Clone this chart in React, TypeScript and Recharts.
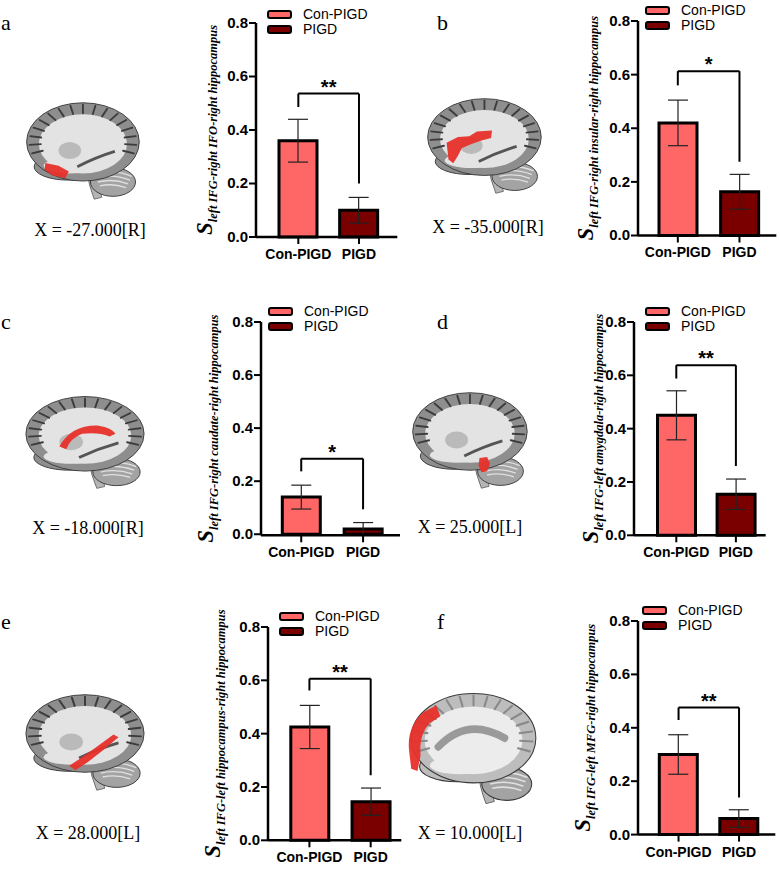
import React from 'react'
import { BarChart, Bar, Cell, XAxis, YAxis, ErrorBar, ReferenceLine } from 'recharts'

// values
const groups = ['Con-PIGD', 'PIGD']
const conMeans = [0.36, 0.42, 0.14, 0.45, 0.425, 0.3]
const conErrors = [0.08, 0.085, 0.045, 0.092, 0.081, 0.074]
const pigdMeans = [0.1, 0.163, 0.02, 0.154, 0.145, 0.06]
const pigdErrors = [0.048, 0.065, 0.024, 0.057, 0.051, 0.033]
const bracketTop = [0.536, 0.613, 0.285, 0.638, 0.606, 0.476]
const bracketLeftEnd = [0.486, 0.56, 0.237, 0.588, 0.562, 0.429]
const bracketRightEnd = [0.2, 0.275, 0.094, 0.26, 0.244, 0.139]
const stars = ['**', '*', '*', '**', '**', '**']
const yTicks = [0, 0.2, 0.4, 0.6, 0.8]
const panelLetters = ['a', 'b', 'c', 'd', 'e', 'f']
const captions = ['X = -27.000[R]', 'X = -35.000[R]', 'X = -18.000[R]', 'X = 25.000[L]', 'X = 28.000[L]', 'X = 10.000[L]']
const subscripts = [
  'left IFG-right IFO-right hippocampus',
  'left IFG-right insular-right hippocampus',
  'left IFG-right caudate-right hippocampus',
  'left IFG-left amygdala-right hippocampus',
  'left IFG-left hippocampus-right hippocampus',
  'left IFG-left MFG-right hippocampus',
]

const COLORS = ['#FF6666', '#7A0000']
const SANS = '"Liberation Sans", Arial, sans-serif'
const SERIF = '"Liberation Serif", "Times New Roman", serif'

// where each panel sits on the page
const layout = [
  { axisX: 255.7, top: 22.7, bottom: 236.7, right: 397, padL: 12, padR: 8, labelOff: 39, legend: [267, 10], brain: [21, 98, 122, 105], caption: [90, 237], letter: [1, 31] },
  { axisX: 637.7, top: 21, bottom: 235.5, right: 776, padL: 9, padR: 6, labelOff: 40, legend: [645, 6], brain: [422, 94, 123, 103], caption: [488, 234], letter: [437, 31] },
  { axisX: 261, top: 321.7, bottom: 535, right: 400, padL: 9.3, padR: 6, labelOff: 43, legend: [268, 307], brain: [20, 392, 128, 100], caption: [88, 535], letter: [1, 330] },
  { axisX: 634.3, top: 321.7, bottom: 535, right: 766, padL: 12.5, padR: 0, labelOff: 31, legend: [645, 307], brain: [407, 388, 124, 104], caption: [470, 534], letter: [437, 330] },
  { axisX: 267.7, top: 626.7, bottom: 840, right: 401, padL: 10.8, padR: 0, labelOff: 43, legend: [279, 612], brain: [20, 690, 128, 104], caption: [88, 840], letter: [1, 630] },
  { axisX: 637.7, top: 620.7, bottom: 834.3, right: 775, padL: 10.3, padR: 6, labelOff: 43, legend: [642, 606], brain: [405, 688, 135, 120], caption: [470, 840], letter: [437, 630] },
]

// red activation blobs, in the 130x110 brain box
const regions = [
  'M26,68 L40,71 L51,77 L47,84 L33,81 L25,75 Z',
  'M26,52 L38,46 L50,45 L58,40 L74,39 L73,47 L62,50 L51,54 L42,58 L38,66 L33,74 L28,70 L27,61 Z',
  'M40,60 Q52,36 80,37 Q93,39 97,46 L91,49 Q80,44 63,46 Q51,51 47,63 Z',
  'M76,74 L84,73 L87,80 L84,88 L78,89 L75,82 Z',
  'M50,80 L62,72 L78,60 L95,47 L100,50 L84,64 L68,77 L56,85 Z',
  'M4,58 C2,42 8,30 18,22 L30,16 L34,26 L24,32 C16,40 14,50 15,62 L12,76 L6,74 Z',
]

const M = { top: 30, right: 5, left: 30, bottom: 10 }
const Y_W = 40
const X_H = 30

function AxisTitle({ px, py, sub }: { px: number; py: number; sub: string }) {
  return (
    <text
      transform={`translate(${px},${py}) rotate(-90)`}
      textAnchor="middle"
      fontFamily={SERIF}
      fontStyle="italic"
      fontWeight="bold"
      fill="#000"
    >
      <tspan fontSize={23}>S</tspan>
      <tspan fontSize={12.5} dy={5}>{sub}</tspan>
    </text>
  )
}

function YTick({ x, y, payload }: any) {
  return (
    <text x={x} y={y} dy={5} textAnchor="end" fontFamily={SANS} fontWeight="bold" fontSize={15} fill="#000">
      {Number(payload.value).toFixed(1)}
    </text>
  )
}

function Brain({ box, region, medial }: { box: number[]; region: string; medial: boolean }) {
  const [x, y, w, h] = box
  const sulci = Array.from({ length: 17 }, (_, i) => {
    const t = Math.PI * (0.9 + (i * 1.2) / 16)
    return {
      x1: 66 + 45 * Math.cos(t),
      y1: 46 + 30 * Math.sin(t),
      x2: 66 + 57 * Math.cos(t),
      y2: 46 + 39 * Math.sin(t),
    }
  })
  const cortex = medial ? '#bdbdbd' : '#8e8e8e'
  const white = medial ? '#ececec' : '#e3e3e3'
  return (
    <svg style={{ position: 'absolute', left: x, top: y }} width={w} height={h} viewBox="0 0 130 110" preserveAspectRatio="none">
      <path d="M70,74 Q72,92 78,106 L86,104 Q82,90 82,74 Z" fill="#b5b5b5" stroke="#555" strokeWidth={0.8} />
      <ellipse cx={98} cy={88} rx={24} ry={15} fill="#a3a3a3" stroke="#3a3a3a" strokeWidth={1} />
      {[0, 1, 2, 3].map((k) => (
        <path key={k} d={`M${78 + k * 2},${80 + k * 4} Q98,${74 + k * 5} ${118 - k * 2},${82 + k * 4}`} stroke="#e0e0e0" strokeWidth={1.4} fill="none" />
      ))}
      <ellipse cx={50} cy={72} rx={36} ry={14} fill={cortex} stroke="#3a3a3a" strokeWidth={1} />
      <ellipse cx={66} cy={46} rx={60} ry={41} fill={cortex} stroke="#3a3a3a" strokeWidth={1} />
      <ellipse cx={66} cy={48} rx={47} ry={31} fill={white} />
      <ellipse cx={52} cy={71} rx={28} ry={8} fill={white} />
      {sulci.map((s, i) => (
        <line key={i} {...s} stroke={medial ? '#8a8a8a' : '#3c3c3c'} strokeWidth={2} strokeLinecap="round" />
      ))}
      {medial ? (
        <path d="M32,54 Q60,26 96,46" stroke="#9a9a9a" strokeWidth={7} fill="none" strokeLinecap="round" />
      ) : (
        <>
          <ellipse cx={52} cy={55} rx={12} ry={9} fill="#bababa" />
          <path d="M60,72 Q80,62 100,56" stroke="#555" strokeWidth={3} fill="none" />
        </>
      )}
      <path d={region} fill="#E8302A" opacity={0.95} />
    </svg>
  )
}

function LegendBox({ at }: { at: number[] }) {
  return (
    <div style={{ position: 'absolute', left: at[0], top: at[1] }}>
      {groups.map((g, i) => (
        <div key={g} style={{ position: 'absolute', left: 0, top: i * 14.5, height: 10, whiteSpace: 'nowrap' }}>
          <div
            style={{
              position: 'absolute',
              left: 0,
              top: 0,
              width: 21,
              height: 5,
              background: COLORS[i],
              border: '2.5px solid #000',
              borderRadius: 3,
            }}
          />
          <span style={{ position: 'absolute', left: 36, top: -4, fontFamily: SANS, fontSize: 14, lineHeight: '16px', color: '#000' }}>{g}</span>
        </div>
      ))}
    </div>
  )
}

function Panel({ i }: { i: number }) {
  const L = layout[i]
  const data = [
    { name: groups[0], value: conMeans[i], err: conErrors[i] },
    { name: groups[1], value: pigdMeans[i], err: pigdErrors[i] },
  ]
  const width = L.right - L.axisX + M.left + Y_W + M.right
  const height = L.bottom - L.top + M.top + M.bottom + X_H
  const plotX = M.left + Y_W
  const plotMidY = M.top + (L.bottom - L.top) / 2
  return (
    <div style={{ position: 'absolute', left: L.axisX - plotX, top: L.top - M.top }}>
      <BarChart width={width} height={height} data={data} margin={M}>
        <XAxis
          dataKey="name"
          height={X_H}
          padding={{ left: L.padL, right: L.padR }}
          axisLine={{ stroke: '#000', strokeWidth: 2.5 }}
          tickLine={{ stroke: '#000', strokeWidth: 2 }}
          tickSize={7}
          tickMargin={5}
          tick={{ fill: '#000', fontFamily: SANS, fontWeight: 'bold', fontSize: 14 }}
          interval={0}
        />
        <YAxis
          width={Y_W}
          domain={[0, 0.8]}
          ticks={yTicks}
          axisLine={{ stroke: '#000', strokeWidth: 2.5 }}
          tickLine={{ stroke: '#000', strokeWidth: 2 }}
          tickSize={7}
          tickMargin={1}
          tick={<YTick />}
          label={<AxisTitle px={plotX - L.labelOff - 5} py={plotMidY} sub={subscripts[i]} />}
        />
        <Bar dataKey="value" barSize={38} stroke="#000" strokeWidth={3} isAnimationActive={false}>
          {data.map((d, k) => (
            <Cell key={d.name} fill={COLORS[k]} />
          ))}
          <ErrorBar dataKey="err" width={10} stroke="#222" strokeWidth={1.2} />
        </Bar>
        <ReferenceLine
          segment={[{ x: groups[0], y: bracketTop[i] }, { x: groups[1], y: bracketTop[i] }]}
          stroke="#000"
          strokeWidth={2}
          label={{ value: stars[i], position: 'top', offset: 0, fill: '#000', fontSize: 20, fontWeight: 'bold', fontFamily: SANS }}
        />
        <ReferenceLine segment={[{ x: groups[0], y: bracketLeftEnd[i] }, { x: groups[0], y: bracketTop[i] }]} stroke="#000" strokeWidth={2} />
        <ReferenceLine segment={[{ x: groups[1], y: bracketRightEnd[i] }, { x: groups[1], y: bracketTop[i] }]} stroke="#000" strokeWidth={2} />
      </BarChart>
    </div>
  )
}

export default function App() {
  return (
    <div style={{ position: 'absolute', left: 0, top: 0, width: 780, height: 873, background: '#fff', overflow: 'hidden' }}>
      {layout.map((L, i) => (
        <React.Fragment key={i}>
          <div style={{ position: 'absolute', left: L.letter[0], top: L.letter[1] - 20, fontFamily: SERIF, fontSize: 22, lineHeight: '24px' }}>
            {panelLetters[i]}
          </div>
          <Brain box={L.brain} region={regions[i]} medial={i === 5} />
          <div
            style={{
              position: 'absolute',
              left: L.caption[0] - 80,
              width: 160,
              top: L.caption[1] - 17,
              textAlign: 'center',
              fontFamily: SERIF,
              fontSize: 18,
              lineHeight: '20px',
            }}
          >
            {captions[i]}
          </div>
          <Panel i={i} />
          <LegendBox at={L.legend} />
        </React.Fragment>
      ))}
    </div>
  )
}
